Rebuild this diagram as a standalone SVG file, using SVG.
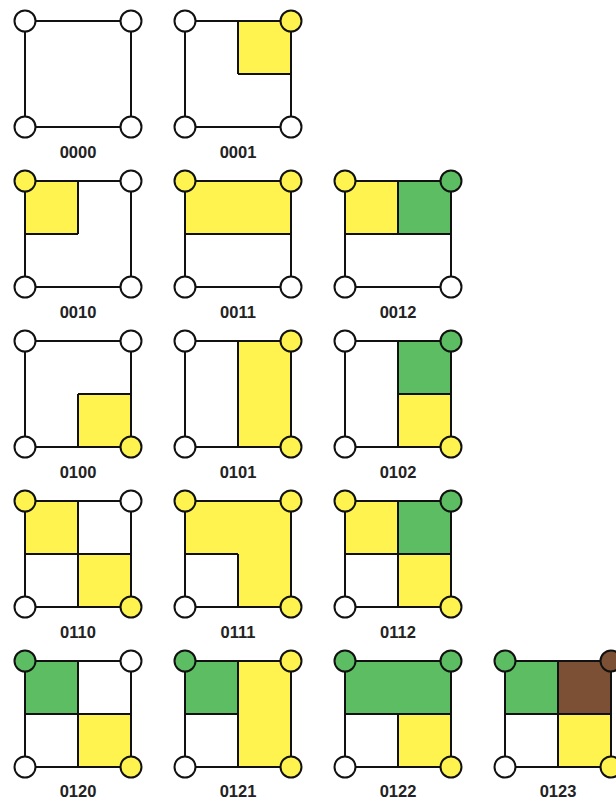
<svg xmlns="http://www.w3.org/2000/svg" width="616" height="801" viewBox="0 0 616 801">
<style>
.y{fill:#fff34f}
.g{fill:#5dbd62}
.b{fill:#7b5034}
.sq{fill:none;stroke:#111;stroke-width:2}
.ln{stroke:#111;stroke-width:2;fill:none}
.cw{fill:#fff;stroke:#111;stroke-width:2}
.cy{fill:#fff34f;stroke:#111;stroke-width:2}
.cg{fill:#5dbd62;stroke:#111;stroke-width:2}
.cb{fill:#7b5034;stroke:#111;stroke-width:2}
.lb{font-family:"Liberation Sans",Arial,sans-serif;font-weight:bold;font-size:16.5px;fill:#222;text-anchor:middle}
</style>
<rect x="0" y="0" width="616" height="801" fill="#fff"/>

<g id="t0000" transform="translate(25,21)">
<rect class="sq" x="0" y="0" width="106" height="106"/>
<circle class="cw" cx="0" cy="0" r="10.5"/><circle class="cw" cx="106" cy="0" r="10.5"/><circle class="cw" cx="0" cy="106" r="10.5"/><circle class="cw" cx="106" cy="106" r="10.5"/>
<text class="lb" x="53" y="136.5">0000</text>
</g>

<g id="t0001" transform="translate(185,21)">
<rect class="y" x="53" y="0" width="53" height="53"/>
<rect class="sq" x="0" y="0" width="106" height="106"/>
<path class="ln" d="M53 0V53M53 53H106"/>
<circle class="cw" cx="0" cy="0" r="10.5"/><circle class="cy" cx="106" cy="0" r="10.5"/><circle class="cw" cx="0" cy="106" r="10.5"/><circle class="cw" cx="106" cy="106" r="10.5"/>
<text class="lb" x="53" y="136.5">0001</text>
</g>

<g id="t0010" transform="translate(25,181)">
<rect class="y" x="0" y="0" width="53" height="53"/>
<rect class="sq" x="0" y="0" width="106" height="106"/>
<path class="ln" d="M53 0V53M0 53H53"/>
<circle class="cy" cx="0" cy="0" r="10.5"/><circle class="cw" cx="106" cy="0" r="10.5"/><circle class="cw" cx="0" cy="106" r="10.5"/><circle class="cw" cx="106" cy="106" r="10.5"/>
<text class="lb" x="53" y="136.5">0010</text>
</g>

<g id="t0011" transform="translate(185,181)">
<rect class="y" x="0" y="0" width="106" height="53"/>
<rect class="sq" x="0" y="0" width="106" height="106"/>
<path class="ln" d="M0 53H106"/>
<circle class="cy" cx="0" cy="0" r="10.5"/><circle class="cy" cx="106" cy="0" r="10.5"/><circle class="cw" cx="0" cy="106" r="10.5"/><circle class="cw" cx="106" cy="106" r="10.5"/>
<text class="lb" x="53" y="136.5">0011</text>
</g>

<g id="t0012" transform="translate(345,181)">
<rect class="y" x="0" y="0" width="53" height="53"/>
<rect class="g" x="53" y="0" width="53" height="53"/>
<rect class="sq" x="0" y="0" width="106" height="106"/>
<path class="ln" d="M53 0V53M0 53H106"/>
<circle class="cy" cx="0" cy="0" r="10.5"/><circle class="cg" cx="106" cy="0" r="10.5"/><circle class="cw" cx="0" cy="106" r="10.5"/><circle class="cw" cx="106" cy="106" r="10.5"/>
<text class="lb" x="53" y="136.5">0012</text>
</g>

<g id="t0100" transform="translate(25,341)">
<rect class="y" x="53" y="53" width="53" height="53"/>
<rect class="sq" x="0" y="0" width="106" height="106"/>
<path class="ln" d="M53 53V106M53 53H106"/>
<circle class="cw" cx="0" cy="0" r="10.5"/><circle class="cw" cx="106" cy="0" r="10.5"/><circle class="cw" cx="0" cy="106" r="10.5"/><circle class="cy" cx="106" cy="106" r="10.5"/>
<text class="lb" x="53" y="136.5">0100</text>
</g>

<g id="t0101" transform="translate(185,341)">
<rect class="y" x="53" y="0" width="53" height="106"/>
<rect class="sq" x="0" y="0" width="106" height="106"/>
<path class="ln" d="M53 0V106"/>
<circle class="cw" cx="0" cy="0" r="10.5"/><circle class="cy" cx="106" cy="0" r="10.5"/><circle class="cw" cx="0" cy="106" r="10.5"/><circle class="cy" cx="106" cy="106" r="10.5"/>
<text class="lb" x="53" y="136.5">0101</text>
</g>

<g id="t0102" transform="translate(345,341)">
<rect class="g" x="53" y="0" width="53" height="53"/>
<rect class="y" x="53" y="53" width="53" height="53"/>
<rect class="sq" x="0" y="0" width="106" height="106"/>
<path class="ln" d="M53 0V106M53 53H106"/>
<circle class="cw" cx="0" cy="0" r="10.5"/><circle class="cg" cx="106" cy="0" r="10.5"/><circle class="cw" cx="0" cy="106" r="10.5"/><circle class="cy" cx="106" cy="106" r="10.5"/>
<text class="lb" x="53" y="136.5">0102</text>
</g>

<g id="t0110" transform="translate(25,501)">
<rect class="y" x="0" y="0" width="53" height="53"/>
<rect class="y" x="53" y="53" width="53" height="53"/>
<rect class="sq" x="0" y="0" width="106" height="106"/>
<path class="ln" d="M53 0V106M0 53H106"/>
<circle class="cy" cx="0" cy="0" r="10.5"/><circle class="cw" cx="106" cy="0" r="10.5"/><circle class="cw" cx="0" cy="106" r="10.5"/><circle class="cy" cx="106" cy="106" r="10.5"/>
<text class="lb" x="53" y="136.5">0110</text>
</g>

<g id="t0111" transform="translate(185,501)">
<path class="y" d="M0 0H106V106H53V53H0Z"/>
<rect class="sq" x="0" y="0" width="106" height="106"/>
<path class="ln" d="M53 53V106M0 53H53"/>
<circle class="cy" cx="0" cy="0" r="10.5"/><circle class="cy" cx="106" cy="0" r="10.5"/><circle class="cw" cx="0" cy="106" r="10.5"/><circle class="cy" cx="106" cy="106" r="10.5"/>
<text class="lb" x="53" y="136.5">0111</text>
</g>

<g id="t0112" transform="translate(345,501)">
<rect class="y" x="0" y="0" width="53" height="53"/>
<rect class="g" x="53" y="0" width="53" height="53"/>
<rect class="y" x="53" y="53" width="53" height="53"/>
<rect class="sq" x="0" y="0" width="106" height="106"/>
<path class="ln" d="M53 0V106M0 53H106"/>
<circle class="cy" cx="0" cy="0" r="10.5"/><circle class="cg" cx="106" cy="0" r="10.5"/><circle class="cw" cx="0" cy="106" r="10.5"/><circle class="cy" cx="106" cy="106" r="10.5"/>
<text class="lb" x="53" y="136.5">0112</text>
</g>

<g id="t0120" transform="translate(25,661)">
<rect class="g" x="0" y="0" width="53" height="53"/>
<rect class="y" x="53" y="53" width="53" height="53"/>
<rect class="sq" x="0" y="0" width="106" height="106"/>
<path class="ln" d="M53 0V106M0 53H106"/>
<circle class="cg" cx="0" cy="0" r="10.5"/><circle class="cw" cx="106" cy="0" r="10.5"/><circle class="cw" cx="0" cy="106" r="10.5"/><circle class="cy" cx="106" cy="106" r="10.5"/>
<text class="lb" x="53" y="136">0120</text>
</g>

<g id="t0121" transform="translate(185,661)">
<rect class="g" x="0" y="0" width="53" height="53"/>
<rect class="y" x="53" y="0" width="53" height="106"/>
<rect class="sq" x="0" y="0" width="106" height="106"/>
<path class="ln" d="M53 0V106M0 53H53"/>
<circle class="cg" cx="0" cy="0" r="10.5"/><circle class="cy" cx="106" cy="0" r="10.5"/><circle class="cw" cx="0" cy="106" r="10.5"/><circle class="cy" cx="106" cy="106" r="10.5"/>
<text class="lb" x="53" y="136">0121</text>
</g>

<g id="t0122" transform="translate(345,661)">
<rect class="g" x="0" y="0" width="106" height="53"/>
<rect class="y" x="53" y="53" width="53" height="53"/>
<rect class="sq" x="0" y="0" width="106" height="106"/>
<path class="ln" d="M53 53V106M0 53H106"/>
<circle class="cg" cx="0" cy="0" r="10.5"/><circle class="cg" cx="106" cy="0" r="10.5"/><circle class="cw" cx="0" cy="106" r="10.5"/><circle class="cy" cx="106" cy="106" r="10.5"/>
<text class="lb" x="53" y="136">0122</text>
</g>

<g id="t0123" transform="translate(505,661)">
<rect class="g" x="0" y="0" width="53" height="53"/>
<rect class="b" x="53" y="0" width="53" height="53"/>
<rect class="y" x="53" y="53" width="53" height="53"/>
<rect class="sq" x="0" y="0" width="106" height="106"/>
<path class="ln" d="M53 0V106M0 53H106"/>
<circle class="cg" cx="0" cy="0" r="10.5"/><circle class="cb" cx="106" cy="0" r="10.5"/><circle class="cw" cx="0" cy="106" r="10.5"/><circle class="cy" cx="106" cy="106" r="10.5"/>
<text class="lb" x="53" y="136">0123</text>
</g>
</svg>
